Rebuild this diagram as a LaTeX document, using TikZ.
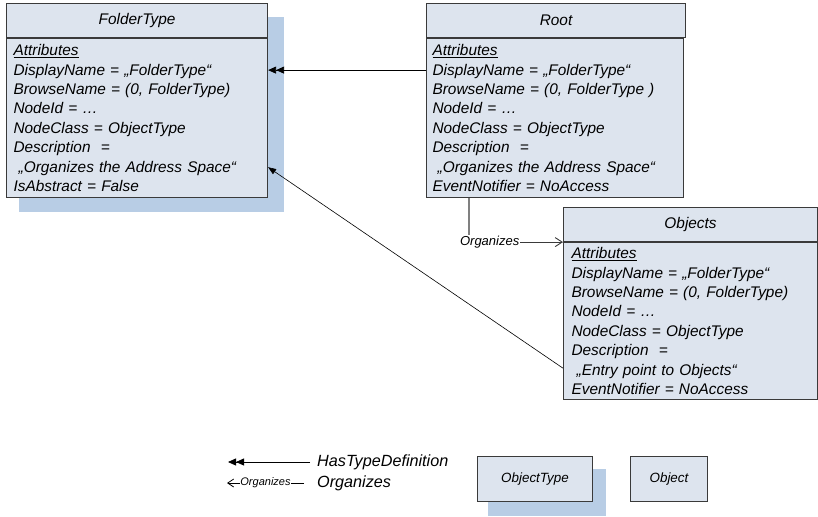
\documentclass[tikz,border=0pt]{standalone}
\usepackage{fontspec}
\setmainfont{Liberation Sans}
\usetikzlibrary{arrows.meta,positioning}
\definecolor{boxfill}{HTML}{DDE4EE}
\definecolor{shadowblue}{HTML}{B8CDE5}
\definecolor{boxline}{HTML}{3A3A3A}
\definecolor{orgline}{HTML}{808080}
\tikzset{
  hdr/.style={draw=boxline, fill=boxfill, line width=1.1pt, anchor=north west,
    minimum height=34pt, inner sep=0pt, font=\fontsize{15.4}{19.5}\selectfont\itshape},
  attr/.style={draw=boxline, fill=boxfill, line width=1.1pt, anchor=north west,
    align=left, inner xsep=7pt, inner ysep=3pt, font=\fontsize{15.4}{19.4}\selectfont\itshape},
  small box/.style={draw=boxline, fill=boxfill, line width=1pt, anchor=north west,
    inner sep=0pt, font=\fontsize{13.4}{15}\selectfont\itshape},
  htd/.style={line width=0.8pt, -{Triangle[length=8pt,width=7pt]Triangle[length=8pt,width=7pt]}},
  org/.style={draw=boxline, line width=0.9pt, -{Straight Barb[length=7pt,width=9pt,line width=0.9pt]}},
  orglbl/.style={fill=white, inner sep=1pt, font=\fontsize{13}{15}\selectfont\itshape},
  legend/.style={anchor=west, inner sep=0pt, font=\fontsize{16.2}{19}\selectfont\itshape},
}
\begin{document}
\begin{tikzpicture}[x=1pt, y=-1pt]
\useasboundingbox (0,0) rectangle (818,516);

% type shadows
\fill [shadowblue] (19,17) rectangle (284,212);
\fill [shadowblue] (488,469) rectangle (606,516);

% FolderType
\node [hdr, minimum width=261pt] (ft) at (6,3) {FolderType};
\node [attr, text width=247pt, minimum height=159pt] (ftAttr) at (ft.south west) {\underline{Attributes}\\
DisplayName = „FolderType“\\
BrowseName = (0, FolderType)\\
NodeId = …\\
NodeClass = ObjectType\\
Description \ =\\
\ „Organizes the Address Space“\\
IsAbstract = False};

% Root
\node [hdr, minimum width=259pt] (root) at (426,3) {Root};
\node [attr, text width=245pt, minimum height=159pt, inner xsep=6pt] (rootAttr) at (root.south west) {\underline{Attributes}\\
DisplayName = „FolderType“\\
BrowseName = (0, FolderType )\\
NodeId = …\\
NodeClass = ObjectType\\
Description \ =\\
\ „Organizes the Address Space“\\
EventNotifier = NoAccess};

% Objects
\node [hdr, minimum width=254pt] (obj) at (563,207) {Objects};
\node [attr, text width=238pt, minimum height=157pt, inner xsep=8pt] (objAttr) at (obj.south west) {\underline{Attributes}\\
DisplayName = „FolderType“\\
BrowseName = (0, FolderType)\\
NodeId = …\\
NodeClass = ObjectType\\
Description \ =\\
\ „Entry point to Objects“\\
EventNotifier = NoAccess};

% references
\draw [htd] ([yshift=-32pt]rootAttr.north west) -- ([yshift=-32pt]ftAttr.north east);
\draw [line width=0.6pt, -{Triangle[length=8pt,width=6pt]}] ([yshift=32pt]objAttr.south west) -- ([yshift=31pt]ftAttr.south east);
\coordinate (orgCorner) at ([xshift=43pt]rootAttr.south west |- obj.south west);
\draw [orgline, line width=1.4pt] ([xshift=43pt]rootAttr.south west) -- (orgCorner);
\draw [org] (orgCorner) -- (obj.south west)
  node [orglbl, pos=0.22] {Organizes};

% legend
\node [legend] (lgHtd) at (317,462) {HasTypeDefinition};
\node [legend] (lgOrg) at (317,483) {Organizes};
\coordinate (lgHtdEnd) at (228,462);
\coordinate (lgOrgEnd) at (227,483);
\draw [htd] ([xshift=-7pt]lgHtd.west) -- (lgHtdEnd);
\draw [line width=0.8pt, -{Straight Barb[length=6pt,width=8pt]}] ([xshift=-13pt]lgOrg.west) -- (lgOrgEnd)
  node [pos=0.5, fill=white, inner sep=0.5pt, font=\fontsize{11}{13}\selectfont\itshape] {Organizes};
\node [small box, minimum width=115pt, minimum height=45pt] (objType) at (477,456) {ObjectType};
\node [small box, minimum width=77pt, minimum height=45pt] (objInst) at (630,456) {Object};
\end{tikzpicture}
\end{document}
